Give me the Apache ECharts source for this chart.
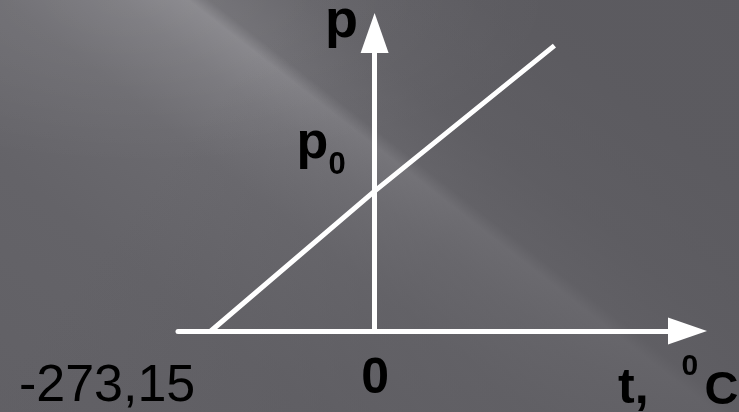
<!DOCTYPE html>
<html>
<head>
<meta charset="utf-8">
<script src="https://cdn.jsdelivr.net/npm/echarts@6/dist/echarts.min.js"></script>
<style>
  html, body { margin: 0; padding: 0; }
  #chart {
    width: 739px;
    height: 412px;
    background:
      linear-gradient(128deg, rgba(92,91,96,0) 0%, rgba(92,91,96,0) 28%, rgba(92,91,96,0.55) 60%, rgba(92,91,96,0.85) 100%),
      radial-gradient(ellipse 55% 40% at 20% 0%, rgba(255,255,255,0.08), rgba(255,255,255,0) 100%),
      linear-gradient(38deg, #616065 0%, #646368 25%, #6b6a6f 42%, #77767b 51%, #838287 56.5%, #6b6a6f 58.2%, #626166 66%, #5c5b60 80%, #5a595e 100%);
  }
</style>
</head>
<body>
<div id="chart"></div>
<script>
// gas pressure vs temperature (isochoric), p0 taken as 1
const tempC = [-273.15, 0, 300]
const pressure = [0, 1, 2.04]
const tRange = [-328, 522]
const pRange = [0, 2.13]
const tickValues = [-273.15, 0]
const tickLabels = ['-273,15', '0']
const pName = 'p'
const p0Name = ['p', '0']
const tName = ['t,', '0', 'C']

const FONT = '"Liberation Sans", Arial, sans-serif'

const chart = echarts.init(document.getElementById('chart'))

chart.setOption({
  animation: false,
  grid: {
    left: 178,
    right: 51.5,
    top: 33,
    bottom: 81,
    containLabel: false,
    outerBoundsMode: 'none'
  },
  xAxis: {
    type: 'value',
    min: tRange[0],
    max: tRange[1],
    axisLine: {
      onZero: true,
      symbol: ['none', 'triangle'],
      symbolSize: [27, 39],
      lineStyle: { color: '#ffffff', width: 5 }
    },
    axisTick: { show: false },
    axisLabel: { show: false },
    splitLine: { show: false }
  },
  yAxis: {
    type: 'value',
    min: pRange[0],
    max: pRange[1],
    axisLine: {
      show: true,
      onZero: true,
      symbol: ['none', 'triangle'],
      symbolSize: [28, 40],
      lineStyle: { color: '#ffffff', width: 5 }
    },
    axisTick: { show: false },
    axisLabel: { show: false },
    splitLine: { show: false }
  },
  series: [
    {
      type: 'line',
      data: tempC.map((t, i) => [t, pressure[i]]),
      symbol: 'none',
      lineStyle: { color: '#ffffff', width: 5 },
      z: 3
    }
  ]
})

// labels are placed relative to pixels of real data points
const px = v => chart.convertToPixel({ gridIndex: 0 }, v)
const origin = px([0, 0])
const absZero = px([tickValues[0], 0])
const yTop = px([0, pRange[1]])
const xEnd = px([tRange[1], 0])
const p0Pt = px([0, pressure[1]])

function txt(text, at, dx, dy, size, weight, align) {
  return {
    type: 'text',
    x: at[0] + dx,
    y: at[1] + dy,
    style: {
      text: text,
      fill: '#000000',
      font: weight + ' ' + size + 'px ' + FONT,
      align: align,
      verticalAlign: 'middle'
    },
    z: 10
  }
}

chart.setOption({
  graphic: [
    txt(pName, yTop, -16.5, -11, 54, 'bold', 'right'),
    txt(p0Name[0], p0Pt, -78, -47, 52, 'bold', 'left'),
    txt(p0Name[1], p0Pt, -46, -26, 31, 'bold', 'left'),
    txt(tickLabels[1], origin, 0.5, 48.5, 50, 'bold', 'center'),
    txt(tickLabels[0], absZero, -15.6, 56, 52, 'normal', 'right'),
    txt(tName[0], xEnd, -69.5, 58.5, 50, 'bold', 'left'),
    txt(tName[1], xEnd, -6, 36, 30, 'bold', 'left'),
    txt(tName[2], xEnd, 17, 60, 47, 'bold', 'left')
  ]
})
</script>
</body>
</html>
